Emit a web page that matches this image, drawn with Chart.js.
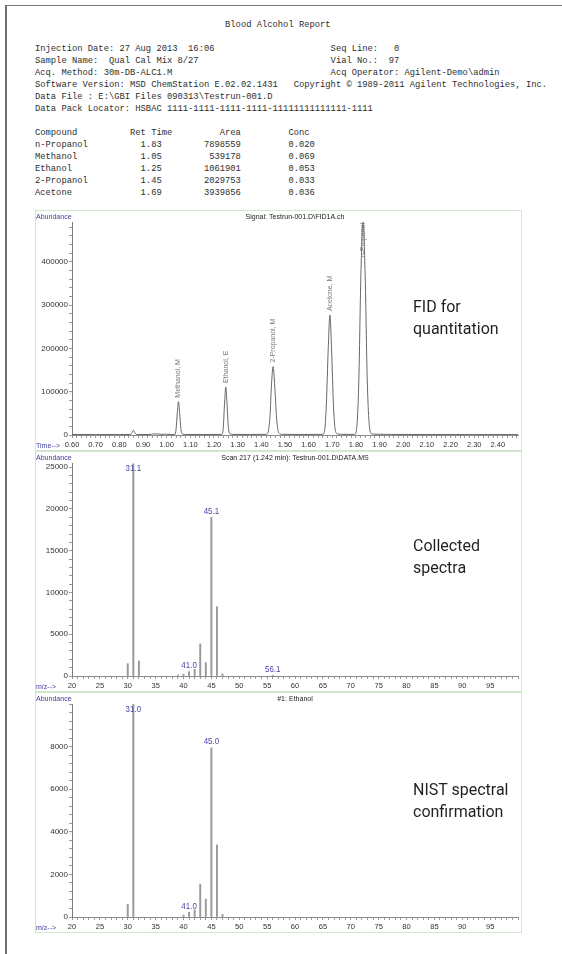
<!DOCTYPE html>
<html lang="en">
<head>
    <meta charset="UTF-8">
    <title>Blood Alcohol Report</title>
    <script src="https://cdn.jsdelivr.net/npm/chart.js"></script>
    <style>
        body { margin: 0; background: #fff; width: 562px; height: 954px; position: relative; overflow: hidden; }
        .frame { position: absolute; left: 5px; top: 5px; width: 600px; height: 1000px; border-left: 2px solid #6f6f6f; border-top: 1px solid #7a7a7a; }
        #report { position: absolute; left: 35px; top: 19px; margin: 0; font-family: 'Liberation Mono', 'Courier New', monospace; font-size: 8.8px; line-height: 12px; color: #2e2e2e; white-space: pre; }
        .panel { position: absolute; left: 35px; width: 487px; height: 241px; }
        .panel canvas { position: absolute; left: 0; top: 0; }
        .panel .edge { position: absolute; left: 0; top: 0; width: 487px; height: 241px; border: 1px solid #d3e6cf; box-sizing: border-box; pointer-events: none; }
        .note { position: absolute; left: 413px; font-family: Roboto, 'Noto Sans', sans-serif; font-size: 16px; line-height: 22px; color: #231f20; }
    </style>
</head>
<body>
    <div class="frame"></div>
    <pre id="report"></pre>

    <div class="panel" style="top:210px"><canvas id="fidChart" width="487" height="241"></canvas><div class="edge"></div></div>
    <div class="panel" style="top:451px"><canvas id="scanChart" width="487" height="241"></canvas><div class="edge"></div></div>
    <div class="panel" style="top:692px"><canvas id="nistChart" width="487" height="241"></canvas><div class="edge"></div></div>

    <div class="note" style="top:296px">FID for<br>quantitation</div>
    <div class="note" style="top:535px">Collected<br>spectra</div>
    <div class="note" style="top:779px">NIST spectral<br>confirmation</div>

    <script>
        // Report table
        const compounds = ['n-Propanol', 'Methanol', 'Ethanol', '2-Propanol', 'Acetone'];
        const retTimes = [1.83, 1.05, 1.25, 1.45, 1.69];
        const areas = [7898559, 539178, 1061901, 2029753, 3939856];
        const concs = [0.020, 0.069, 0.053, 0.033, 0.036];
        const fidPeakLabels = ['n-Propanol', 'Methanol, M', 'Ethanol, E', '2-Propanol, M', 'Acetone, M'];

        // FID signal (time in min, abundance)
        const fidTime = [0.60, 0.70, 0.80, 0.848, 0.854, 0.860, 0.866, 0.873, 0.90, 0.93, 0.945, 0.965, 0.98, 0.995, 1.005, 1.02,
            1.035, 1.040, 1.045, 1.050, 1.055, 1.060, 1.066, 1.08, 1.15,
            1.233, 1.239, 1.245, 1.250, 1.255, 1.261, 1.268, 1.28, 1.35,
            1.422, 1.430, 1.437, 1.443, 1.450, 1.457, 1.464, 1.471, 1.48, 1.49, 1.58,
            1.660, 1.668, 1.675, 1.683, 1.690, 1.697, 1.705, 1.712, 1.722, 1.735, 1.77,
            1.795, 1.803, 1.812, 1.821, 1.830, 1.839, 1.848, 1.857, 1.866, 1.88, 1.95, 2.10, 2.30, 2.485];
        const fidAbundance = [1200, 1000, 1100, 1200, 5500, 11000, 5000, 1300, 1100, 1200, 2600, 2300, 1200, 2000, 1500, 1100,
            1300, 14000, 51000, 77000, 50000, 15000, 2500, 1200, 1100,
            1300, 15000, 76000, 111000, 74000, 17000, 3000, 1400, 1200,
            1500, 9000, 45000, 115000, 158000, 112000, 45000, 10000, 2500, 1500, 1200,
            1500, 12000, 70000, 200000, 277000, 198000, 70000, 14000, 2500, 1600, 1300,
            1600, 15000, 120000, 370000, 492000, 370000, 125000, 20000, 3000, 1700, 1300, 1100, 1000, 1000];

        // Collected spectrum, scan 217
        const scanMz = [30, 31, 32, 39, 40, 41, 42, 43, 44, 45, 46, 47, 56];
        const scanAbundance = [1480, 25400, 1800, 120, 220, 520, 800, 3840, 1600, 19000, 8300, 250, 90];
        const scanTagMz = [31, 45, 41, 56];
        const scanTagText = ['31.1', '45.1', '41.0', '56.1'];

        // NIST library spectrum, ethanol
        const nistMz = [30, 31, 40, 41, 42, 43, 44, 45, 46, 47];
        const nistAbundance = [590, 9999, 90, 220, 330, 1540, 840, 7940, 3380, 125];
        const nistTagMz = [31, 45, 41];
        const nistTagText = ['31.0', '45.0', '41.0'];

        // Tick labels
        const timeTickLabels = ['0.60', '0.70', '0.80', '0.90', '1.00', '1.10', '1.20', '1.30', '1.40', '1.50',
            '1.60', '1.70', '1.80', '1.90', '2.00', '2.10', '2.20', '2.30', '2.40'];
        const mzTickLabels = ['20', '25', '30', '35', '40', '45', '50', '55', '60', '65', '70', '75', '80', '85', '90', '95'];
        const fidYTickLabels = ['0', '100000', '200000', '300000', '400000'];
        const scanYTickLabels = ['0', '5000', '10000', '15000', '20000', '25000'];
        const nistYTickLabels = ['0', '2000', '4000', '6000', '8000'];

        const chartFont = "'Liberation Sans Narrow', 'Arial Narrow', 'Liberation Sans', Arial, sans-serif";

        // ---- report text ----
        const pad = (s, n) => s + ' '.repeat(Math.max(0, n - s.length));
        const lpad = (s, n) => ' '.repeat(Math.max(0, n - s.length)) + s;
        let txt = ' '.repeat(36) + 'Blood Alcohol Report\n\n';
        txt += pad('Injection Date: 27 Aug 2013  16:06', 56) + 'Seq Line:   0\n';
        txt += pad('Sample Name:  Qual Cal Mix 8/27', 56) + 'Vial No.:  97\n';
        txt += pad('Acq. Method: 30m-DB-ALC1.M', 56) + 'Acq Operator: Agilent-Demo\\admin\n';
        txt += 'Software Version: MSD ChemStation E.02.02.1431   Copyright \u00a9 1989-2011 Agilent Technologies, Inc.\n';
        txt += 'Data File : E:\\GBI Files 090313\\Testrun-001.D\n';
        txt += 'Data Pack Locator: HSBAC 1111-1111-1111-1111-11111111111111-1111\n\n';
        txt += pad('Compound', 18) + pad('Ret Time', 17) + pad('Area', 13) + 'Conc\n';
        compounds.forEach((c, i) => {
            txt += pad(c, 20) + pad(retTimes[i].toFixed(2), 12) + lpad(String(areas[i]), 7) + ' '.repeat(9) + concs[i].toFixed(3) + '\n';
        });
        document.getElementById('report').textContent = txt;

        // ---- chart helpers ----
        function makeTicks(min, max, step) {
            const out = [];
            const n = Math.floor((max - min) / step + 1e-9);
            for (let i = 0; i <= n; i++) out.push({ value: +(min + i * step).toFixed(6) });
            return out;
        }

        function labelFor(labels, v, step) {
            const hit = labels.find(l => Math.abs(Number(l) - v) < step / 10);
            return hit || '';
        }

        function xAxis(min, max, step, labels) {
            return {
                type: 'linear', min: min, max: max, offset: false,
                afterBuildTicks: s => { s.ticks = makeTicks(min, max, step); },
                afterFit: s => { s.height = 16; },
                ticks: {
                    autoSkip: false, maxRotation: 0, padding: 2, color: '#333',
                    font: { family: chartFont, size: 7.5 },
                    callback: v => labelFor(labels, v, step)
                },
                grid: { drawOnChartArea: false, offset: false, tickLength: 3, color: '#9a9a9a' },
                border: { color: '#8a8a8a' }
            };
        }

        function yAxis(max, step, labels) {
            return {
                min: 0, max: max,
                afterBuildTicks: s => { s.ticks = makeTicks(0, max, step); },
                afterFit: s => { s.width = 37; },
                ticks: {
                    autoSkip: false, padding: 1, color: '#333',
                    font: { family: chartFont, size: 8 },
                    callback: v => labelFor(labels, v, step)
                },
                grid: { drawOnChartArea: false, tickLength: 3, color: '#9a9a9a' },
                border: { color: '#7a7a7a' }
            };
        }

        // squeeze text a little, the print uses a narrow face
        function narrowText(ctx, text, x, y, align) {
            const w = ctx.measureText(text).width * 0.88;
            let left = x;
            if (align === 'center') left = x - w / 2;
            ctx.save();
            ctx.translate(left, y);
            ctx.scale(0.88, 1);
            ctx.textAlign = 'left';
            ctx.fillText(text, 0, 0);
            ctx.restore();
        }

        function panelText(title, axisName) {
            return {
                id: 'panelText',
                afterDraw(chart) {
                    const ctx = chart.ctx, a = chart.chartArea;
                    ctx.save();
                    ctx.font = '8px ' + chartFont;
                    ctx.textBaseline = 'middle';
                    ctx.fillStyle = '#3d3f9e';
                    narrowText(ctx, 'Abundance', 1, 6.5, 'left');
                    narrowText(ctx, axisName, 1, a.bottom + 11, 'left');
                    ctx.fillStyle = '#222';
                    narrowText(ctx, title, (a.left + a.right) / 2, 6.5, 'center');
                    ctx.restore();
                }
            };
        }

        function spectrumTags(tagMz, tagText, mz, abund) {
            return {
                id: 'spectrumTags',
                afterDatasetsDraw(chart) {
                    const ctx = chart.ctx, a = chart.chartArea;
                    const x = chart.scales.x, y = chart.scales.y;
                    ctx.save();
                    ctx.font = '9px ' + chartFont;
                    ctx.fillStyle = '#4a45a8';
                    ctx.textBaseline = 'middle';
                    tagMz.forEach((m, i) => {
                        const h = abund[mz.indexOf(m)];
                        const py = Math.max(a.top + 6, y.getPixelForValue(h) - 6);
                        narrowText(ctx, tagText[i], x.getPixelForValue(m), py, 'center');
                    });
                    ctx.restore();
                }
            };
        }

        const fidLabels = {
            id: 'fidLabels',
            afterDatasetsDraw(chart) {
                const ctx = chart.ctx, a = chart.chartArea;
                const x = chart.scales.x, y = chart.scales.y;
                ctx.save();
                ctx.font = '7px ' + chartFont;
                ctx.fillStyle = '#7a7a7a';
                ctx.textAlign = 'left';
                ctx.textBaseline = 'middle';
                retTimes.forEach((rt, i) => {
                    let top = 0;
                    fidTime.forEach((t, j) => { if (Math.abs(t - rt) < 0.02) top = Math.max(top, fidAbundance[j]); });
                    const label = fidPeakLabels[i];
                    const w = ctx.measureText(label).width;
                    let start = y.getPixelForValue(top) - 4;
                    if (start - w < a.top + 1) start = a.top + 1 + w;
                    ctx.save();
                    ctx.translate(x.getPixelForValue(rt), start);
                    ctx.rotate(-Math.PI / 2);
                    ctx.fillText(label, 0, 0);
                    ctx.restore();
                });
                ctx.restore();
            }
        };

        const common = {
            responsive: false,
            animation: false,
            layout: { padding: { left: 0, right: 4, top: 12, bottom: 0 } },
            plugins: { legend: { display: false }, tooltip: { enabled: false } }
        };

        // FID chromatogram
        new Chart(document.getElementById('fidChart'), {
            type: 'line',
            data: {
                datasets: [{
                    data: fidTime.map((t, i) => ({ x: t, y: fidAbundance[i] })),
                    borderColor: '#666',
                    borderWidth: 1,
                    pointRadius: 0,
                    cubicInterpolationMode: 'monotone'
                }]
            },
            options: Object.assign({}, common, {
                scales: { x: xAxis(0.6, 2.485, 0.02, timeTickLabels), y: yAxis(492000, 20000, fidYTickLabels) }
            }),
            plugins: [panelText('Signal: Testrun-001.D\\FID1A.ch', 'Time-->'), fidLabels]
        });

        // Collected spectrum
        new Chart(document.getElementById('scanChart'), {
            type: 'bar',
            data: {
                datasets: [{
                    data: scanMz.map((m, i) => ({ x: m, y: scanAbundance[i] })),
                    backgroundColor: '#999',
                    barThickness: 1.3
                }]
            },
            options: Object.assign({}, common, {
                scales: { x: xAxis(20, 100, 1, mzTickLabels), y: yAxis(25500, 1000, scanYTickLabels) }
            }),
            plugins: [panelText('Scan 217 (1.242 min): Testrun-001.D\\DATA.MS', 'm/z-->'),
                spectrumTags(scanTagMz, scanTagText, scanMz, scanAbundance)]
        });

        // NIST library spectrum
        new Chart(document.getElementById('nistChart'), {
            type: 'bar',
            data: {
                datasets: [{
                    data: nistMz.map((m, i) => ({ x: m, y: nistAbundance[i] })),
                    backgroundColor: '#999',
                    barThickness: 1.3
                }]
            },
            options: Object.assign({}, common, {
                scales: { x: xAxis(20, 100, 1, mzTickLabels), y: yAxis(10000, 400, nistYTickLabels) }
            }),
            plugins: [panelText('#1: Ethanol', 'm/z-->'),
                spectrumTags(nistTagMz, nistTagText, nistMz, nistAbundance)]
        });
    </script>
</body>
</html>
